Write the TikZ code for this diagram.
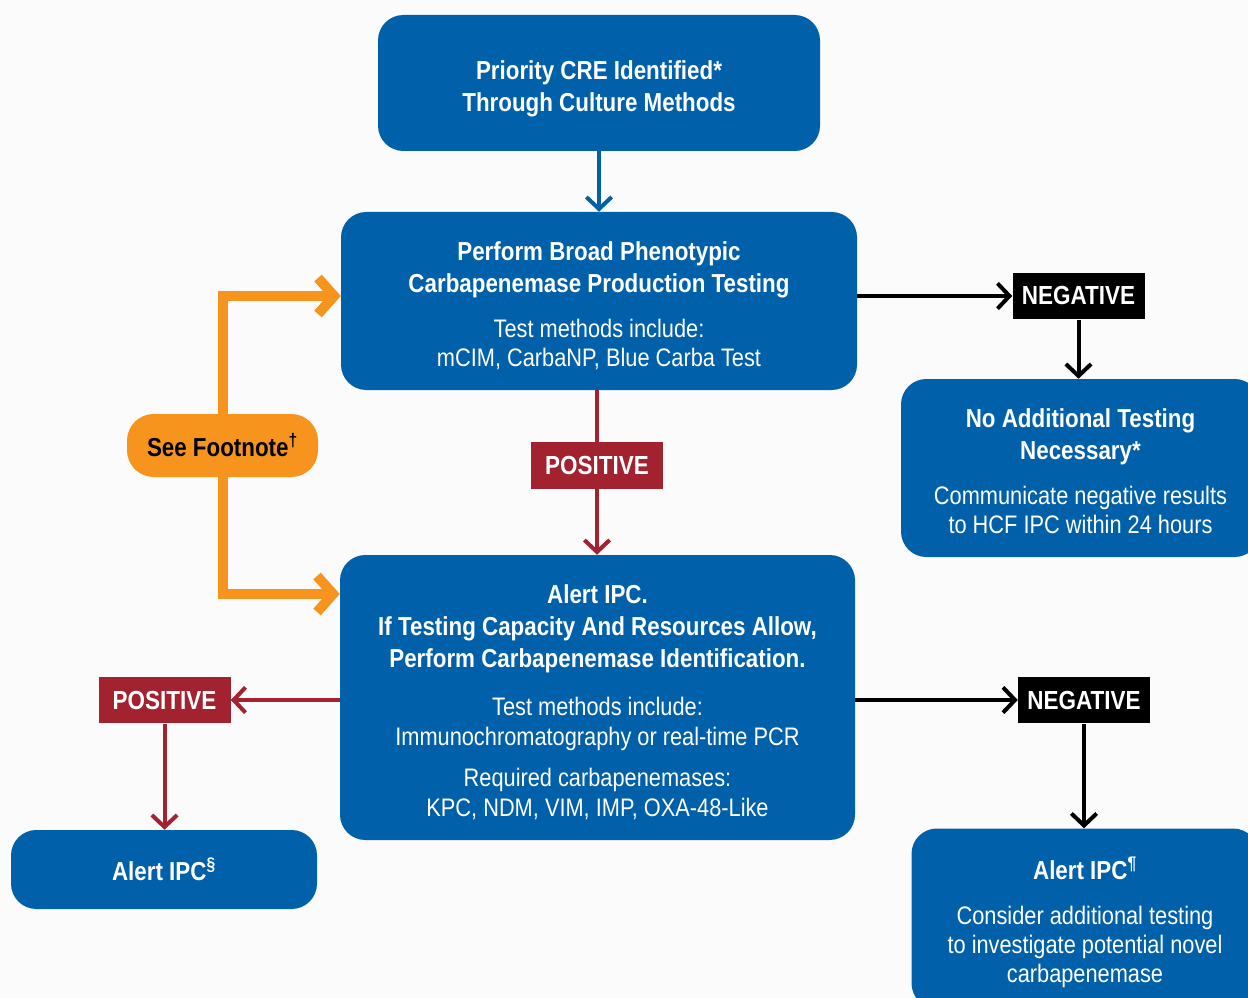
\documentclass[tikz,border=0pt]{standalone}
\usepackage{fontspec}
\setmainfont{Liberation Sans}[FakeStretch=0.86]
\usetikzlibrary{arrows.meta}
\definecolor{cblue}{RGB}{0,96,170}
\definecolor{cred}{RGB}{163,34,48}
\definecolor{corange}{RGB}{247,148,29}
\definecolor{bgc}{RGB}{251,251,251}
\newcommand\hdf{\fontsize{19.5}{24}\selectfont\bfseries}
\newcommand\rgf{\fontsize{19}{24}\selectfont\mdseries}
\newcommand\tagf{\fontsize{19.6}{22}\selectfont\bfseries}
\newcommand\tb[1]{\begin{tabular}{@{}c@{}}\rule{0pt}{26pt}#1\end{tabular}}
\begin{document}
\begin{tikzpicture}[x=0.75pt,y=-0.75pt,
  box/.style={fill=cblue, rounded corners=19pt, text=white, align=center, inner sep=0pt, font=\hdf},
  tagbox/.style={fill=#1, text=white, inner sep=0pt, font=\tagf, minimum width=99pt, minimum height=35pt},
  foot/.style={fill=corange, rounded corners=20pt, inner sep=0pt, font=\hdf, text=black},
  arrB/.style={draw=cblue, line width=3pt, -{Straight Barb[length=9pt,width=19pt]}},
  arrK/.style={draw=black, line width=3pt, -{Straight Barb[length=9pt,width=19pt]}},
  arrR/.style={draw=cred, line width=3pt, -{Straight Barb[length=9pt,width=19pt]}},
  lineR/.style={draw=cred, line width=3pt},
  arrO/.style={draw=corange, line width=7.5pt, -{Straight Barb[length=12pt,width=27pt]}}
]
\path[use as bounding box, fill=bgc] (0,0) rectangle (1248,998);
\begin{scope}
\clip (0,0) rectangle (1248,998);

\node[box, minimum width=331.5pt, minimum height=102pt] (b1) at (599,83)
  {\tb{Priority CRE Identified*\\Through Culture Methods}};

\node[box, minimum width=387pt, minimum height=133.5pt] (b2) at (599,301)
  {\tb{Perform Broad Phenotypic\\Carbapenemase Production Testing\\[9.75pt]
   \rgf Test methods include:\\[-2.25pt]\rgf mCIM, CarbaNP, Blue Carba Test}};

\node[tagbox=black] (neg1) at (1078.5,296) {NEGATIVE};

\node[box, minimum width=269.25pt, minimum height=133.5pt] (b3) at (1080.5,468)
  {\tb{No Additional Testing\\Necessary*\\[9.75pt]
   \rgf Communicate negative results\\[-2.25pt]\rgf to HCF IPC within 24 hours}};

\node[tagbox=cred] (pos1) at (597,465.5) {POSITIVE};

\node[box, minimum width=386.25pt, minimum height=213.75pt] (b4) at (597.5,697.5)
  {\tb{Alert IPC.\\If Testing Capacity And Resources Allow,\\Perform Carbapenemase Identification.\\[12.5pt]
   \rgf Test methods include:\\[-1.5pt]\rgf Immunochromatography or real-time PCR\\[6.75pt]
   \rgf Required carbapenemases:\\[-1.5pt]\rgf KPC, NDM, VIM, IMP, OXA-48-Like}};

\node[foot, minimum width=143.25pt, minimum height=47.25pt] (fn) at (222.5,445.5)
  {See Footnote\textsuperscript{†}};

\node[tagbox=cred] (pos2) at (164.5,700) {POSITIVE};

\node[box, minimum width=229.5pt, minimum height=59.25pt] (b5) at (164,869.5)
  {Alert IPC\textsuperscript{§}};

\node[tagbox=black] (neg2) at (1084,700) {NEGATIVE};

\node[box, minimum width=260.25pt, minimum height=135pt] (b6) at (1085,918.5)
  {\tb{Alert IPC\textsuperscript{¶}\\[9.75pt]
   \rgf Consider additional testing\\[-2.25pt]\rgf to investigate potential novel\\[-2.25pt]\rgf carbapenemase}};

% connectors
\draw[arrB] (b1.south) -- (b2.north);
\draw[arrK] (b2.east |- neg1.west) -- (neg1.west);
\draw[arrK] (neg1.south) -- (neg1.south |- b3.north);
\draw[lineR] (b2.south -| pos1.north) -- (pos1.north);
\draw[arrR] (pos1.south) -- (pos1.south |- b4.north);
\draw[arrO] (fn.north) |- ([yshift=3.75pt]b2.west);
\draw[arrO] (fn.south) |- (b4.west |- 0,594);
\draw[arrR] (b4.west |- pos2.east) -- (pos2.east);
\draw[arrR] (pos2.south) -- (pos2.south |- b5.north);
\draw[arrK] (b4.east |- neg2.west) -- (neg2.west);
\draw[arrK] (neg2.south) -- (neg2.south |- b6.north);
\end{scope}
\end{tikzpicture}
\end{document}
